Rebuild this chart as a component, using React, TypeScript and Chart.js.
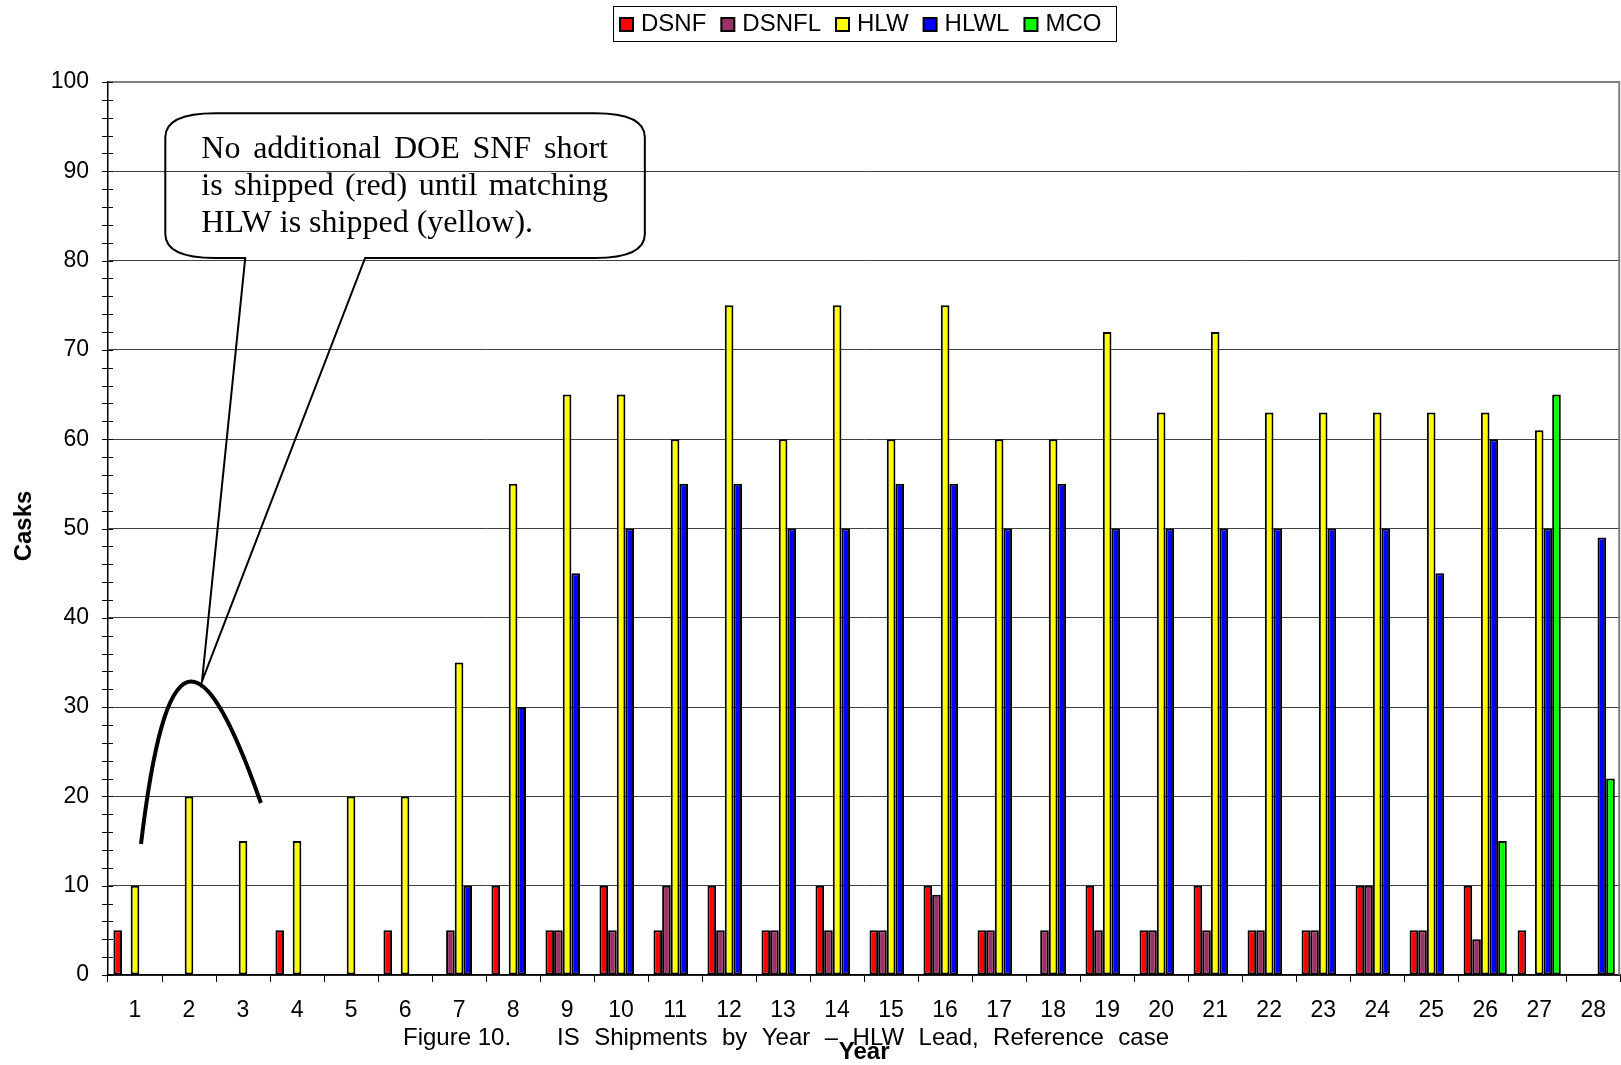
import React, { useEffect, useRef } from 'react';
import { Chart, registerables } from 'chart.js';

Chart.register(...registerables);

// ---------------- data ----------------
const years = ['1','2','3','4','5','6','7','8','9','10','11','12','13','14','15','16','17','18','19','20','21','22','23','24','25','26','27','28'];
const dsnf  = [5,0,0,5,0,5,0,10,5,10,5,10,5,10,5,10,5,0,10,5,10,5,5,10,5,10,5,0];
const dsnfl = [0,0,0,0,0,0,5,0,5,5,10,5,5,5,5,9,5,5,5,5,5,5,5,10,5,4,0,0];
const hlw   = [10,20,15,15,20,20,35,55,65,65,60,75,60,75,60,75,60,60,72,63,72,63,63,63,63,63,61,0];
const hlwl  = [0,0,0,0,0,0,10,30,45,50,55,55,50,50,55,55,50,55,50,50,50,50,50,50,45,60,50,49];
const mco   = [0,0,0,0,0,0,0,0,0,0,0,0,0,0,0,0,0,0,0,0,0,0,0,0,0,15,65,22];
const seriesNames = ['DSNF','DSNFL','HLW','HLWL','MCO'];
const seriesColors = ['#FF0000','#993366','#FFFF00','#0000FF','#00FF00'];
const yTicks = [0,10,20,30,40,50,60,70,80,90,100];

const calloutLines = ['No additional DOE SNF short','is shipped (red) until matching','HLW is shipped (yellow).'];
const captionLeft = 'Figure 10.';
const captionRight = 'IS Shipments by Year \u2013 HLW Lead, Reference case';
const xTitle = 'Year';
const yTitle = 'Casks';

// annotation geometry in data space (x: category index, y: value)
const callout = { left: 0.561, right: 9.44, top: 96.5, bottom: 80.3, baseL: 2.041, baseR: 4.261, tipX: 1.24, tipY: 32.87,
  textLeft: 1.227, textRight: 8.757, baselines: [91.49, 87.35, 83.2] };
const arcPts = [[0.111,14.67],[0.561,37.51],[1.208,38.63],[2.331,19.26]];

const SANS = "'Liberation Sans', Arial, sans-serif";
const SERIF = "'Liberation Serif', 'Times New Roman', serif";

function drawJustified(ctx: CanvasRenderingContext2D, line: string, left: number, right: number, y: number) {
  const words = line.split(' ');
  const ww = words.map(w => ctx.measureText(w).width);
  const total = ww.reduce((a, b) => a + b, 0);
  const gap = (right - left - total) / (words.length - 1);
  let cx = left;
  words.forEach((w, k) => { ctx.fillText(w, cx, y); cx += ww[k] + gap; });
}

const decor = {
  id: 'decor',
  afterDraw(chart: any) {
    const { ctx, chartArea: ca, scales } = chart;
    const x = scales.x, y = scales.y;
    const x0 = x.getPixelForValue(0);
    const dx = x.getPixelForValue(1) - x0;
    const px = (i: number) => x0 + i * dx;
    const py = (v: number) => y.getPixelForValue(v);
    ctx.save();

    // right plot border
    ctx.strokeStyle = '#808080';
    ctx.lineWidth = 2;
    ctx.beginPath();
    ctx.moveTo(ca.right - 1, ca.top);
    ctx.lineTo(ca.right - 1, ca.bottom);
    ctx.stroke();

    // y minor/major ticks crossing the axis
    ctx.strokeStyle = '#000';
    ctx.lineWidth = 1;
    for (let v = 0; v <= 100; v += 2) {
      const yy = Math.round(py(v)) + 0.5;
      ctx.beginPath();
      ctx.moveTo(ca.left - 6, yy);
      ctx.lineTo(ca.left + 5, yy);
      ctx.stroke();
    }

    // callout box
    const L = px(callout.left), R = px(callout.right), T = py(callout.top), B = py(callout.bottom);
    const rx = 50, ry = 24;
    ctx.strokeStyle = '#000';
    ctx.lineWidth = 2;
    ctx.beginPath();
    ctx.moveTo(L + rx, T);
    ctx.lineTo(R - rx, T);
    ctx.quadraticCurveTo(R, T, R, T + ry);
    ctx.lineTo(R, B - ry);
    ctx.quadraticCurveTo(R, B, R - rx, B);
    ctx.lineTo(px(callout.baseR), B);
    ctx.lineTo(px(callout.tipX), py(callout.tipY));
    ctx.lineTo(px(callout.baseL), B);
    ctx.lineTo(L + rx, B);
    ctx.quadraticCurveTo(L, B, L, B - ry);
    ctx.lineTo(L, T + ry);
    ctx.quadraticCurveTo(L, T, L + rx, T);
    ctx.closePath();
    ctx.stroke();

    // callout text (justified)
    ctx.fillStyle = '#000';
    ctx.font = `32px ${SERIF}`;
    ctx.textBaseline = 'alphabetic';
    ctx.textAlign = 'left';
    const tl = px(callout.textLeft), tr = px(callout.textRight);
    calloutLines.forEach((line, idx) => {
      const by = py(callout.baselines[idx]);
      if (idx < calloutLines.length - 1) drawJustified(ctx, line, tl, tr, by);
      else ctx.fillText(line, tl, by);
    });

    // thick arc
    ctx.lineWidth = 4;
    ctx.beginPath();
    ctx.moveTo(px(arcPts[0][0]), py(arcPts[0][1]));
    ctx.bezierCurveTo(px(arcPts[1][0]), py(arcPts[1][1]), px(arcPts[2][0]), py(arcPts[2][1]), px(arcPts[3][0]), py(arcPts[3][1]));
    ctx.stroke();

    // legend
    ctx.font = `24px ${SANS}`;
    ctx.textBaseline = 'middle';
    const sq = 13, sqGap = 8, itemGap = 15;
    const widths = seriesNames.map(n => ctx.measureText(n).width);
    const boxL = 613, boxR = 1116, boxT = 6, boxB = 41;
    ctx.lineWidth = 1;
    ctx.strokeStyle = '#000';
    ctx.strokeRect(boxL + 0.5, boxT + 0.5, boxR - boxL, boxB - boxT);
    const cy = (boxT + boxB) / 2 + 1;
    let lx = 620;
    seriesNames.forEach((n, k) => {
      ctx.fillStyle = seriesColors[k];
      ctx.fillRect(lx, cy - sq / 2, sq, sq);
      ctx.lineWidth = 2;
      ctx.strokeStyle = '#000';
      ctx.strokeRect(lx, cy - sq / 2, sq, sq);
      ctx.fillStyle = '#000';
      ctx.fillText(n, lx + sq + sqGap, cy);
      lx += sq + sqGap + widths[k] + itemGap;
    });

    // axis titles
    ctx.font = `bold 24px ${SANS}`;
    ctx.textAlign = 'center';
    ctx.fillText(xTitle, (ca.left + ca.right) / 2, 1052);
    ctx.save();
    ctx.translate(24, 526);
    ctx.rotate(-Math.PI / 2);
    ctx.fillText(yTitle, 0, 0);
    ctx.restore();

    // caption
    ctx.font = `24px ${SANS}`;
    ctx.textAlign = 'left';
    ctx.fillText(captionLeft, 403, 1038);
    drawJustified(ctx, captionRight, 557, 1169, 1038);

    ctx.restore();
  },
};

export default function App() {
  const ref = useRef<HTMLCanvasElement>(null);
  useEffect(() => {
    document.body.style.margin = '0';
    const data = [dsnf, dsnfl, hlw, hlwl, mco];
    const chart = new Chart(ref.current as HTMLCanvasElement, {
      type: 'bar',
      data: {
        labels: years,
        datasets: seriesNames.map((n, k) => ({
          label: n,
          data: data[k],
          backgroundColor: seriesColors[k],
          borderColor: '#000',
          borderWidth: 2,
          borderSkipped: false,
          barPercentage: 1,
          categoryPercentage: 0.8,
        })),
      },
      options: {
        responsive: false,
        animation: false,
        devicePixelRatio: 1,
        layout: { padding: { top: 82, left: 0, right: 0, bottom: 0 } },
        plugins: { legend: { display: false }, title: { display: false }, tooltip: { enabled: false } },
        scales: {
          x: {
            type: 'category',
            grid: { display: true, drawOnChartArea: false, drawTicks: true, tickLength: 7, color: '#000', lineWidth: 1, offset: true },
            border: { display: true, color: '#000', width: 1.5 },
            ticks: { color: '#000', font: { family: SANS, size: 23 }, padding: 15, maxRotation: 0, autoSkip: false },
            afterFit: (s: any) => { s.height = 90; },
          },
          y: {
            min: 0,
            max: 100,
            afterBuildTicks: (s: any) => { s.ticks = yTicks.map(v => ({ value: v })); },
            grid: {
              color: (c: any) => (c.tick && c.tick.value === 100 ? '#808080' : '#404040'),
              lineWidth: (c: any) => (c.tick && c.tick.value === 100 ? 2 : 1),
              drawTicks: false,
            },
            border: { display: true, color: '#000', width: 1.5 },
            ticks: { color: '#000', font: { family: SANS, size: 23 }, padding: 19 },
            afterFit: (s: any) => { s.width = 108; },
          },
        },
      },
      plugins: [decor],
    });
    return () => chart.destroy();
  }, []);
  return (
    <div style={{ position: 'absolute', left: 0, top: 0, width: 1621, height: 1065, background: '#fff' }}>
      <canvas ref={ref} width={1621} height={1065} style={{ display: 'block' }} />
    </div>
  );
}
